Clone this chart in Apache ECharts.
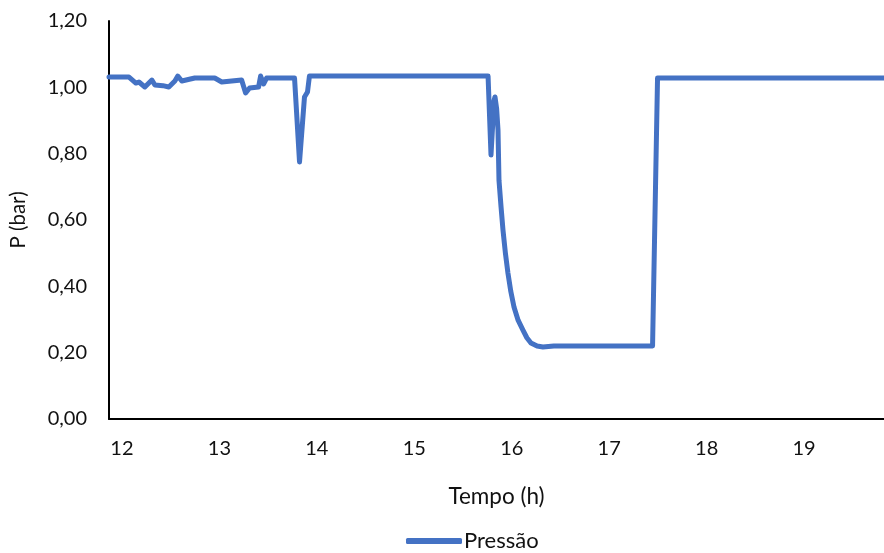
<!DOCTYPE html>
<html>
<head>
<meta charset="utf-8">
<script src="https://cdn.jsdelivr.net/npm/echarts@6/dist/echarts.min.js"></script>
<style>
  html, body { margin: 0; padding: 0; background: #fff; }
  #chart { width: 884px; height: 553px; }
</style>
</head>
<body>
<div id="chart"></div>
<script>
// Time of day (h) and measured pressure (bar)
const tempo = [
  11.867, 12.072, 12.143, 12.174, 12.235, 12.307, 12.338, 12.420, 12.481, 12.543,
  12.573, 12.614, 12.747, 12.952, 13.024, 13.228, 13.269, 13.310, 13.402, 13.423,
  13.454, 13.484, 13.771, 13.791, 13.822, 13.873, 13.904, 13.924, 14.500, 15.000,
  15.500, 15.757, 15.787, 15.818, 15.828, 15.845, 15.859, 15.869, 15.890, 15.910,
  15.935, 15.961, 15.990, 16.023, 16.065, 16.115, 16.155, 16.197, 16.260, 16.320,
  16.432, 16.913, 17.445, 17.496, 17.700, 18.500, 19.820
];
const pressao = [
  1.031, 1.031, 1.013, 1.016, 1.001, 1.022, 1.007, 1.005, 1.001, 1.019,
  1.034, 1.019, 1.028, 1.028, 1.016, 1.022, 0.983, 0.998, 1.001, 1.034,
  1.010, 1.028, 1.028, 1.022, 0.775, 0.971, 0.986, 1.034, 1.034, 1.034,
  1.034, 1.034, 0.796, 0.960, 0.971, 0.935, 0.871, 0.720, 0.640, 0.570,
  0.500, 0.440, 0.385, 0.338, 0.298, 0.268, 0.245, 0.229, 0.220, 0.217,
  0.220, 0.220, 0.220, 1.028, 1.028, 1.028, 1.028
];
const xTicks = [12, 13, 14, 15, 16, 17, 18, 19];

const fontFamily = 'Lato, "Open Sans", sans-serif';
const textColor = '#111';

const chart = echarts.init(document.getElementById('chart'), null, { renderer: 'canvas' });

chart.setOption({
  animation: false,
  backgroundColor: '#fff',
  textStyle: { fontFamily: fontFamily, color: textColor },
  grid: { left: 107, right: 0, top: 21, bottom: 134, containLabel: false },
  legend: {
    top: 530,
    left: 406,
    padding: 0,
    data: [{ name: 'Pressão', icon: 'roundRect' }],
    itemWidth: 56,
    itemHeight: 6,
    textStyle: { fontFamily: fontFamily, fontSize: 22, color: textColor, padding: [0, 0, 0, -3] }
  },
  xAxis: {
    type: 'value',
    min: 11.867,
    max: 19.82,
    name: 'Tempo (h)',
    nameLocation: 'middle',
    nameGap: 66,
    nameTextStyle: { fontFamily: fontFamily, fontSize: 22.5, color: textColor },
    axisLine: { show: true, onZero: false, lineStyle: { color: '#000', width: 2 } },
    axisTick: { show: false },
    splitLine: { show: false },
    axisLabel: {
      customValues: xTicks,
      margin: 20,
      fontFamily: fontFamily,
      fontSize: 20,
      color: textColor,
      formatter: v => String(Math.round(v))
    }
  },
  yAxis: {
    type: 'value',
    min: 0,
    max: 1.2,
    interval: 0.2,
    name: 'P (bar)',
    nameLocation: 'middle',
    nameGap: 80,
    nameRotate: 90,
    nameTextStyle: { fontFamily: fontFamily, fontSize: 20.5, color: textColor },
    axisLine: { show: true, lineStyle: { color: '#000', width: 2 } },
    axisTick: { show: false },
    splitLine: { show: false },
    axisLabel: {
      margin: 22,
      fontFamily: fontFamily,
      fontSize: 20,
      color: textColor,
      formatter: v => v.toFixed(2).replace('.', ',')
    }
  },
  series: [{
    name: 'Pressão',
    type: 'line',
    data: tempo.map((t, i) => [t, pressao[i]]),
    showSymbol: false,
    symbol: 'none',
    smooth: false,
    lineStyle: { color: '#4472C4', width: 5, cap: 'round', join: 'round' },
    itemStyle: { color: '#4472C4' }
  }]
});
</script>
</body>
</html>
